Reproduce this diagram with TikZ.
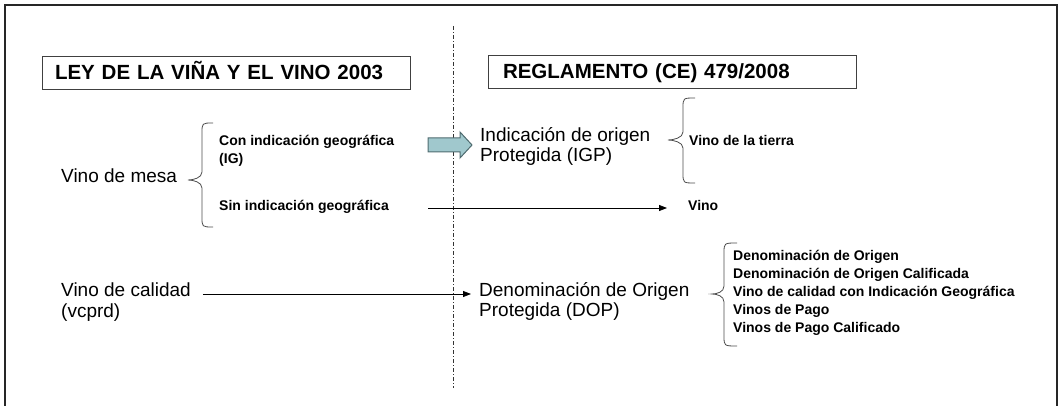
\documentclass[tikz,border=0pt]{standalone}
\usepackage{fontspec}
\setmainfont{Liberation Sans}
\usetikzlibrary{arrows.meta,calc}
\definecolor{arrowfill}{RGB}{160,200,205}
\definecolor{arrowline}{RGB}{80,108,112}
\newcommand\mybrace[6]{%
  \draw[bracestyle] (#1,#4) .. controls (#2,#4) and (#2,#4) .. (#2,#4+10)
    -- (#2,#5-8) .. controls (#2,#5-2) and (#3+5,#5) .. (#3,#5)
    .. controls (#3+5,#5) and (#2,#5+2) .. (#2,#5+8)
    -- (#2,#6-10) .. controls (#2,#6) and (#2,#6) .. (#1,#6);}
\tikzset{
  titlebox/.style={draw=black!75, line width=0.9pt, minimum width=368pt, minimum height=33pt,
    text width=342pt, inner xsep=13pt, inner ysep=0pt, align=left, text height=15pt, text depth=1pt,
    font=\bfseries\fontsize{20.5}{24}\selectfont},
  bigtxt/.style={anchor=west, inner sep=0pt, text height=0.72em, text depth=0.2em,
    font=\fontsize{19}{22}\selectfont},
  smalltxt/.style={anchor=west, inner sep=0pt, text height=0.72em, text depth=0.2em,
    font=\bfseries\fontsize{14}{17}\selectfont},
  bracestyle/.style={draw=black!70, line width=0.8pt},
  conn/.style={draw=black, line width=0.8pt, -{Triangle[length=8pt,width=6pt]}},
  blockarrow/.style={draw=arrowline, fill=arrowfill, line width=1pt, line join=miter}
}
\begin{document}
\begin{tikzpicture}[x=1pt,y=-1pt]
\useasboundingbox (0,0) rectangle (1060,406);
% frame
\draw[line width=1.6pt, black!85] (5,406) -- (5,5) -- (1057,5) -- (1057,406);
% divider
\draw[black!80, line width=0.9pt, dash pattern=on 4pt off 2pt on 1pt off 2pt] (453,26) -- (453,388);
% titles
\node[titlebox] (t1) at (226,72.5) {LEY DE LA VIÑA Y EL VINO 2003};
\node[titlebox, inner xsep=15pt, text width=338pt] (t2) at (672,72) {REGLAMENTO (CE) 479/2008};
% left column
\node[bigtxt] (mesa) at (61,180) {Vino de mesa};
\node[smalltxt] (con1) at (219,143) {Con indicación geográfica};
\node[smalltxt] (con2) at (219,161) {(IG)};
\node[smalltxt] (sin) at (219,208) {Sin indicación geográfica};
\node[bigtxt] (cal1) at (61,294) {Vino de calidad};
\node[bigtxt] (cal2) at (61,315) {(vcprd)};
% right column
\node[bigtxt] (igp1) at (480,139) {Indicación de origen};
\node[bigtxt] (igp2) at (480,159) {Protegida (IGP)};
\node[smalltxt] (tierra) at (689,143) {Vino de la tierra};
\node[smalltxt] (vino) at (688,208) {Vino};
\node[bigtxt] (dop1) at (479,294) {Denominación de Origen};
\node[bigtxt] (dop2) at (479,314) {Protegida (DOP)};
\node[smalltxt] (l1) at (733,258) {Denominación de Origen};
\node[smalltxt] (l2) at (733,276) {Denominación de Origen Calificada};
\node[smalltxt] (l3) at (733,294) {Vino de calidad con Indicación Geográfica};
\node[smalltxt] (l4) at (733,312) {Vinos de Pago};
\node[smalltxt] (l5) at (733,330) {Vinos de Pago Calificado};
% braces
\mybrace{213}{202}{188}{123}{180}{227}
\mybrace{695}{683}{668}{98}{140}{183}
\mybrace{737}{724}{712}{243}{294}{346}
% block arrow
\coordinate (bastart) at (428,145);
\draw[blockarrow] (428,138) -- (460,138) -- (460,132) -- (472,145) -- (460,158) -- (460,152) -- (428,152) -- cycle;
% connectors
\draw[conn] (sin.east -| bastart) -- ($(vino.west)+(-21,0)$);
\draw[conn] ($(cal1.east)+(12,0)$) -- ($(dop1.west)+(-8,0)$);
\end{tikzpicture}
\end{document}
